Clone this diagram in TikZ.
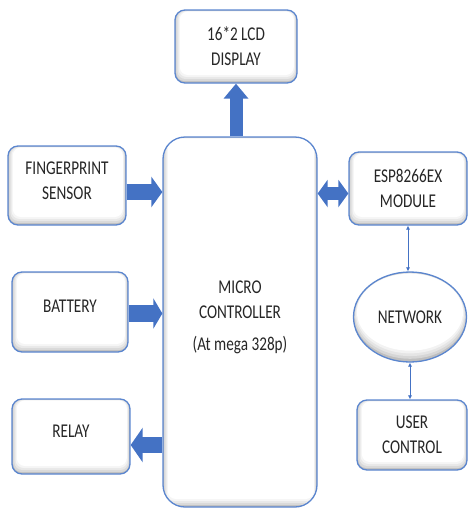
\documentclass[tikz,border=0pt]{standalone}
\usepackage{fontspec}
\setmainfont{Carlito}[FakeStretch=0.78]
\usetikzlibrary{arrows.meta,shapes.geometric}
\definecolor{obl}{HTML}{4472C4}
\definecolor{obb}{HTML}{5B86CF}
\tikzset{
  txt/.style={font=\fontsize{19.5}{25}\selectfont, text=black!85},
  boxshade/.style={path picture={
    \fill[gray!50] (path picture bounding box.south west) rectangle (path picture bounding box.north east);
    \fill[gray!30, rounded corners=#1] ([xshift=1.2pt,yshift=2pt]path picture bounding box.south west) rectangle ([xshift=-0.8pt,yshift=-0.4pt]path picture bounding box.north east);
    \fill[gray!18, rounded corners=#1] ([xshift=2.4pt,yshift=4pt]path picture bounding box.south west) rectangle ([xshift=-1.6pt,yshift=-0.8pt]path picture bounding box.north east);
    \fill[gray!8, rounded corners=#1] ([xshift=3.6pt,yshift=6pt]path picture bounding box.south west) rectangle ([xshift=-2.4pt,yshift=-1.2pt]path picture bounding box.north east);
    \fill[white, rounded corners=#1] ([xshift=4.8pt,yshift=8pt]path picture bounding box.south west) rectangle ([xshift=-3.2pt,yshift=-1.6pt]path picture bounding box.north east);
  }},
  blk/.style={draw=obb, line width=1.3pt, rounded corners=10pt, align=center,
    txt, inner sep=0pt, boxshade=8pt},
  ellshade/.style={path picture={
    \fill[gray!50] (path picture bounding box.south west) rectangle (path picture bounding box.north east);
    \fill[gray!32] ([yshift=1.2pt]path picture bounding box.center) ellipse [x radius=56pt, y radius=43pt];
    \fill[gray!20] ([yshift=2.4pt]path picture bounding box.center) ellipse [x radius=55pt, y radius=41.5pt];
    \fill[gray!10] ([yshift=3.6pt]path picture bounding box.center) ellipse [x radius=54pt, y radius=40pt];
    \fill[white] ([yshift=4.8pt]path picture bounding box.center) ellipse [x radius=53pt, y radius=38.5pt];
  }},
  fat/.style args={#1/#2/#3}{draw=obl, line width=#1, -{Triangle[length=#3, width=#2]}},
  fatboth/.style args={#1/#2/#3}{draw=obl, line width=#1, {Triangle[length=#3, width=#2]}-{Triangle[length=#3, width=#2]}},
  thin/.style={draw=obl, line width=0.6pt, {Latex[length=4pt,width=4pt]}-{Latex[length=4pt,width=4pt]}}
}
\begin{document}
\begin{tikzpicture}[x=1pt,y=-1pt]
\useasboundingbox (0,0) rectangle (468,509);
\node[blk, minimum width=122pt, minimum height=73pt] (lcd) at (236,46.5) {16*2 LCD\\DISPLAY};
\node[blk, rounded corners=22pt, minimum width=154pt, minimum height=370pt] (mc) at (240,322) {};
\node[align=center, txt, inner sep=0pt, anchor=north] (mct) at (240,280.5) {MICRO\\CONTROLLER\\[7pt](At mega 328p)};
\node[blk, minimum width=118pt, minimum height=79pt] (fp) at (67,185.5) {FINGERPRINT\\SENSOR\\[-16pt]};
\node[blk, minimum width=116pt, minimum height=80pt] (bat) at (70,312) {BATTERY\\[-13pt]};
\node[blk, minimum width=118pt, minimum height=75pt] (rel) at (71,436.5) {RELAY\\[-15pt]};
\node[blk, minimum width=118pt, minimum height=73pt] (esp) at (408,188.5) {ESP8266EX\\MODULE};
\node[ellipse, draw=obb, line width=1.3pt, inner sep=0pt, minimum width=113pt, minimum height=90pt,
  txt, ellshade] (net) at (410,317) {NETWORK};
\node[blk, minimum width=110pt, minimum height=70pt] (uc) at (412,435) {USER\\CONTROL};
% block arrows
\draw[fat=13pt/24pt/15pt] (lcd.south |- mc.north) -- (lcd.south);
\draw[fat=16pt/30pt/11pt] ([yshift=-6.5pt]fp.east) -- ([yshift=-6.5pt]fp.east -| mc.west);
\draw[fat=17pt/30pt/9pt] ([yshift=-1.5pt]bat.east) -- ([yshift=-1.5pt]bat.east -| mc.west);
\draw[fat=16pt/34pt/12pt] ([yshift=-8.5pt]rel.east -| mc.west) -- ([yshift=-8.5pt]rel.east);
\draw[fatboth=13pt/27pt/10pt] ([yshift=-5pt]esp.west -| mc.east) -- ([yshift=-5pt]esp.west);
% thin arrows
\draw[thin] (esp.south) -- (esp.south |- net.north);
\draw[thin] (net.south) -- (net.south |- uc.north);
\end{tikzpicture}
\end{document}
